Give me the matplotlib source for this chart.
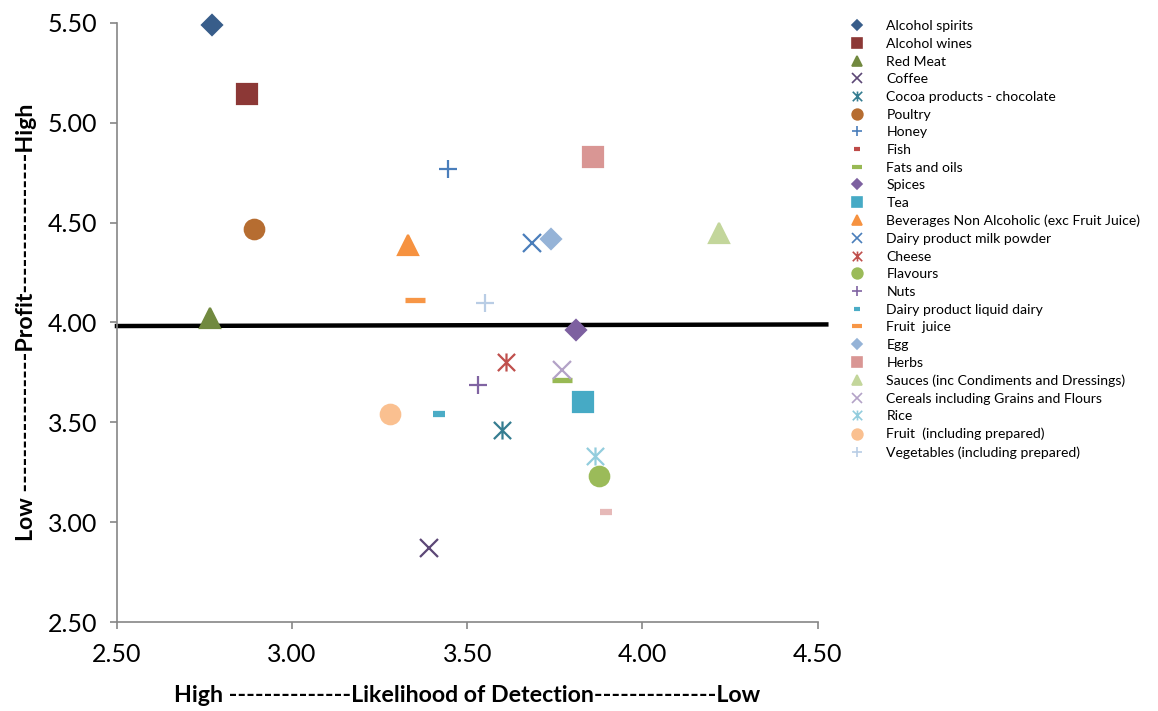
import matplotlib
matplotlib.use("Agg")
import matplotlib.pyplot as plt
from matplotlib.path import Path

plt.rcParams['font.family'] = ['Lato', 'DejaVu Sans']

# product groups, likelihood of detection (x) and profit (y)
categories = [
    'Alcohol spirits', 'Alcohol wines', 'Red Meat', 'Coffee',
    'Cocoa products - chocolate', 'Poultry', 'Honey', 'Fish',
    'Fats and oils', 'Spices', 'Tea', 'Beverages Non Alcoholic (exc Fruit Juice)',
    'Dairy product milk powder', 'Cheese', 'Flavours', 'Nuts',
    'Dairy product liquid dairy', 'Fruit  juice', 'Egg', 'Herbs',
    'Sauces (inc Condiments and Dressings)', 'Cereals including Grains and Flours',
    'Rice', 'Fruit  (including prepared)', 'Vegetables (including prepared)',
]
detection = [2.77, 2.87, 2.765, 3.39, 3.60, 2.89, 3.445, 3.895,
             3.77, 3.81, 3.83, 3.33, 3.685, 3.61, 3.875, 3.53,
             3.42, 3.35, 3.74, 3.86, 4.22, 3.77, 3.865, 3.28, 3.55]
profit = [5.49, 5.145, 4.02, 2.87, 3.46, 4.47, 4.77, 3.05,
          3.71, 3.96, 3.60, 4.39, 4.40, 3.80, 3.23, 3.685,
          3.54, 4.11, 4.42, 4.83, 4.45, 3.76, 3.33, 3.54, 4.095]

# horizontal divider across the chart
divider_x = [2.50, 4.525]
divider_y = [3.982, 3.99]

star = Path([(-1, -1), (1, 1), (-1, 1), (1, -1), (0, -1.05), (0, 1.05)],
            [Path.MOVETO, Path.LINETO, Path.MOVETO, Path.LINETO,
             Path.MOVETO, Path.LINETO])

colors = ['#385D8A', '#8C3836', '#71893F', '#5C4776', '#357D91', '#B66D31',
          '#4A7EBB', '#BE4B48', '#98B954', '#7D60A0', '#46AAC5', '#F69240',
          '#4A7EBB', '#C0504D', '#9BBB59', '#8064A2', '#4BACC6', '#F79646',
          '#95B3D7', '#D99694', '#C3D69B', '#B3A2C7', '#93CDDD', '#FAC090',
          '#B9CDE5']
markers = ['D', 's', '^', 'x', star, 'o', '+', '_', '_', 'D', 's', '^',
           'x', star, 'o', '+', '_', '_', 'D', 's', '^', 'x', star, 'o', '+']
sizes = [10, 14, 14, 13, 13, 14, 13, 8, 14, 10, 14, 14,
         13, 13, 14, 13, 8, 14, 10, 14, 14, 13, 13, 14, 13]
# dashes are drawn as thick short strokes
dash_width = {7: 4.5, 8: 3.8, 16: 4.5, 17: 3.8}
fish_color = '#E6B9B8'

fig = plt.figure(figsize=(11.58, 7.11), dpi=100)
ax = fig.add_axes([0.101, 0.125, 0.605, 0.843])

for i, name in enumerate(categories):
    m = markers[i]
    mew = dash_width.get(i, 1.6)
    c = colors[i]
    ax.plot(detection[i], profit[i], linestyle='none', marker=m,
            markersize=sizes[i], color=c, markeredgecolor=c,
            markeredgewidth=mew, label=name, clip_on=False, zorder=3)
# fish point shows as a pale pink dash
ax.lines[7].set_color(fish_color)
ax.lines[7].set_markeredgecolor(fish_color)

ax.plot(divider_x, divider_y, color='black', linewidth=3.2, clip_on=False,
        zorder=2)

ax.set_xlim(2.5, 4.5)
ax.set_ylim(2.5, 5.5)
ax.set_xticks([2.5, 3.0, 3.5, 4.0, 4.5])
ax.set_yticks([2.5, 3.0, 3.5, 4.0, 4.5, 5.0, 5.5])
ax.xaxis.set_major_formatter(matplotlib.ticker.FormatStrFormatter('%.2f'))
ax.yaxis.set_major_formatter(matplotlib.ticker.FormatStrFormatter('%.2f'))
ax.tick_params(labelsize=18, color='#868686', length=5, width=1.2,
               direction='out')
ax.tick_params(axis='x', pad=10)
ax.tick_params(axis='y', pad=9)
for side in ['top', 'right']:
    ax.spines[side].set_visible(False)
for side in ['left', 'bottom']:
    ax.spines[side].set_color('#868686')
    ax.spines[side].set_linewidth(1.2)

ax.set_xlabel('High --------------Likelihood of Detection--------------Low',
              fontsize=16.7, fontweight='bold', labelpad=14)
ax.set_ylabel('Low ----------------Profit----------------High',
              fontsize=16.7, fontweight='bold', labelpad=8)

leg = ax.legend(loc='upper left', bbox_to_anchor=(1.035, 1.016),
                frameon=False, fontsize=10.1, handlelength=1.2,
                handletextpad=1.45, labelspacing=0.405, borderpad=0,
                markerscale=0.55)
for h in leg.legend_handles:
    h.set_markeredgewidth(1.2)
leg.legend_handles[7].set_color(colors[7])
leg.legend_handles[7].set_markeredgecolor(colors[7])
for i in (7, 8, 16, 17):
    leg.legend_handles[i].set_markeredgewidth(3)

fig.savefig('out.png', dpi=100)
